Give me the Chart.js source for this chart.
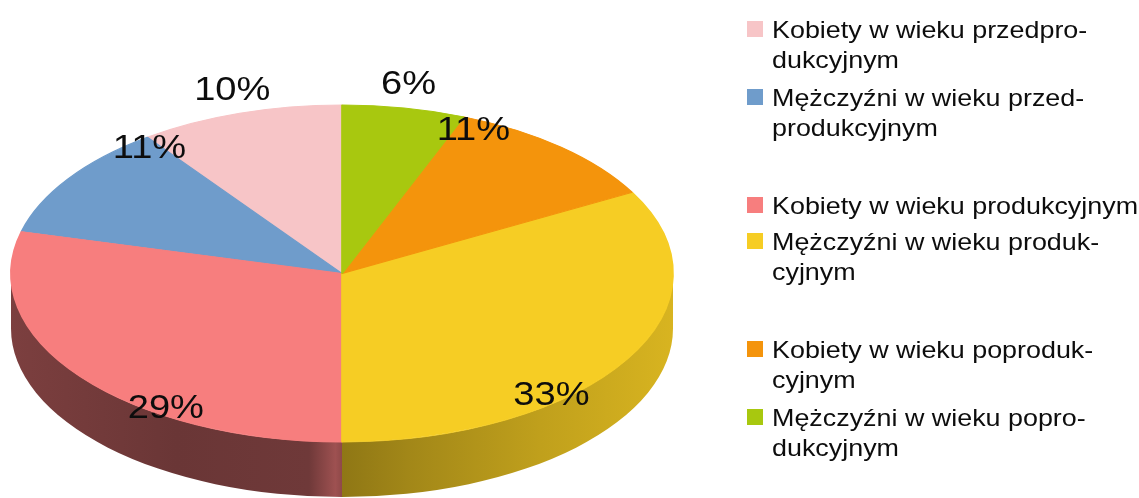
<!DOCTYPE html>
<html>
<head>
<meta charset="utf-8">
<script src="https://cdn.jsdelivr.net/npm/chart.js@4.4.0/dist/chart.umd.min.js"></script>
<style>
html, body { margin: 0; padding: 0; background: #fff; }
#wrap { position: relative; width: 1139px; height: 498px; }
#legend { position: absolute; left: 747px; top: 15px; font-family: "Liberation Sans", Arial, sans-serif; font-size: 24px; line-height: 30px; color: #0d0d0d; }
.item { position: relative; padding-left: 25px; }
.box { position: absolute; left: 0; top: 6px; width: 16px; height: 16px; }
.txt { display: block; transform: scaleX(1.12); transform-origin: 0 0; white-space: nowrap; }
</style>
</head>
<body>
<div id="wrap">
  <canvas id="chart" width="1139" height="498"></canvas>
  <div id="legend"></div>
</div>
<script>
// legend order = drawing order (counter-clockwise from 12 o'clock)
var categories = [
  ["Kobiety w wieku przedpro-", "dukcyjnym"],
  ["Mężczyźni w wieku przed-", "produkcyjnym"],
  ["Kobiety w wieku produkcyjnym"],
  ["Mężczyźni w wieku produk-", "cyjnym"],
  ["Kobiety w wieku poproduk-", "cyjnym"],
  ["Mężczyźni w wieku popro-", "dukcyjnym"]
]
var shares = [10, 11, 29, 33, 11, 6]
var colors = ["#f7c5c7", "#6f9ccb", "#f77e7e", "#f6cd24", "#f4940c", "#a8c80f"]

var depth = 55
var legendGaps = [8, 48, 6, 48, 8, 0]

// legend (html so the wrapped lines stay as in the picture)
var legendDiv = document.getElementById("legend")
categories.forEach(function(lines, i){
  var item = document.createElement("div")
  item.className = "item"
  item.style.marginBottom = legendGaps[i] + "px"
  var box = document.createElement("span")
  box.className = "box"
  box.style.background = colors[i]
  item.appendChild(box)
  lines.forEach(function(t){
    var s = document.createElement("span")
    s.className = "txt"
    s.textContent = t
    item.appendChild(s)
  })
  legendDiv.appendChild(item)
})

function hexRgb(h){
  return [parseInt(h.substr(1,2),16), parseInt(h.substr(3,2),16), parseInt(h.substr(5,2),16)]
}
function shade(h, f){
  var c = hexRgb(h)
  return "rgb(" + Math.round(c[0]*f) + "," + Math.round(c[1]*f) + "," + Math.round(c[2]*f) + ")"
}
// darkening of the side wall from left edge to right edge
var sideStops = [[0, 0.5], [0.25, 0.43], [0.45, 0.45], [0.49, 0.64], [0.5, 0.58], [0.6, 0.66], [0.8, 0.78], [1, 0.88]]

var geo = null

var pie3d = {
  id: "pie3d",
  beforeDatasetsDraw: function(chart){
    var ctx = chart.ctx
    var a = chart.chartArea
    var meta = chart.getDatasetMeta(0)
    var first = meta.data[0]
    var rx = (a.right - a.left) / 2
    var ry = (a.bottom - a.top - depth) / 2
    var cx = a.left + rx
    var cy = a.top + ry
    geo = { cx: cx, cy: cy, rx: rx, ry: ry }

    // side walls, only the front half (angles 0..PI after the flip)
    meta.data.forEach(function(arc, i){
      var a0 = Math.max(arc.startAngle, 0)
      var a1 = Math.min(arc.endAngle, Math.PI)
      if(a1 <= a0) return
      var g = ctx.createLinearGradient(cx - rx, 0, cx + rx, 0)
      sideStops.forEach(function(st){ g.addColorStop(st[0], shade(colors[i], st[1])) })
      ctx.beginPath()
      ctx.ellipse(cx, cy, rx, ry, 0, Math.PI - a0, Math.PI - a1, true)
      ctx.ellipse(cx, cy + depth, rx, ry, 0, Math.PI - a1, Math.PI - a0, false)
      ctx.closePath()
      ctx.fillStyle = g
      ctx.fill()
    })

    // squash + mirror the flat pie into the top face
    ctx.save()
    ctx.translate(cx, cy)
    ctx.scale(-rx / first.outerRadius, ry / first.outerRadius)
    ctx.translate(-first.x, -first.y)
  },
  afterDatasetsDraw: function(chart){
    var ctx = chart.ctx
    ctx.restore()
    var meta = chart.getDatasetMeta(0)
    var total = shares.reduce(function(p, v){ return p + v }, 0)
    ctx.save()
    ctx.fillStyle = "#0d0d0d"
    ctx.font = "34px 'Liberation Sans', Arial, sans-serif"
    ctx.textAlign = "center"
    ctx.textBaseline = "middle"
    meta.data.forEach(function(arc, i){
      var m = (arc.startAngle + arc.endAngle) / 2
      var dx = -Math.cos(m), dy = Math.sin(m)
      var x, y
      if(shares[i] / total <= 0.10){
        // small slice: just outside the rim
        x = geo.cx + geo.rx * dx + dx * 24
        y = geo.cy + geo.ry * dy + dy * 24
      } else {
        var e = 1 / Math.sqrt(Math.pow(dx / geo.rx, 2) + Math.pow(dy / geo.ry, 2))
        x = geo.cx + dx * e * 0.97
        y = geo.cy + dy * e * 0.97 + (dy < 0 ? 6 : -2)
      }
      ctx.save()
      ctx.translate(x, y)
      ctx.scale(1.12, 1)
      ctx.fillText(Math.round(shares[i] / total * 100) + "%", 0, 0)
      ctx.restore()
    })
    ctx.restore()
  }
}

var ctx = document.getElementById("chart").getContext("2d")
var chart = new Chart(ctx, {
  type: "pie",
  data: {
    labels: categories.map(function(l){ return l.join(" ") }),
    datasets: [{
      data: shares,
      backgroundColor: colors,
      borderColor: colors,
      borderWidth: 1,
      clip: false
    }]
  },
  options: {
    responsive: false,
    animation: false,
    events: [],
    layout: { padding: { left: 11, right: 466, top: 105, bottom: 1 } },
    plugins: {
      legend: { display: false },
      tooltip: { enabled: false }
    }
  },
  plugins: [pie3d]
})
</script>
</body>
</html>
